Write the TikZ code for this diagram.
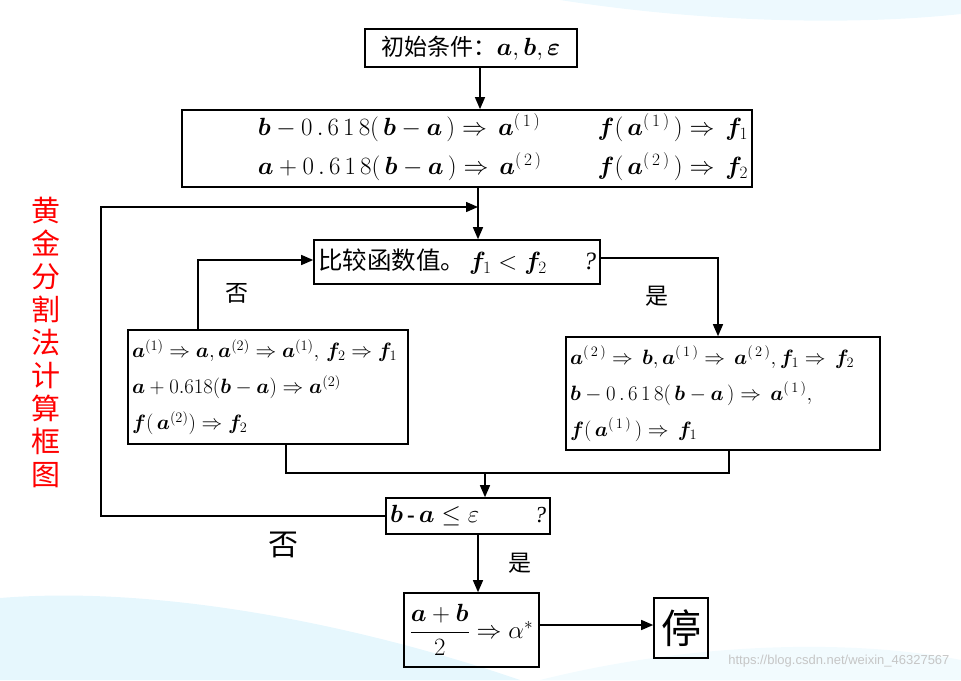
\documentclass[tikz,border=0pt]{standalone}
\usepackage{amsmath,amssymb,bm}
\usepackage{fontspec}
\setmainfont{Liberation Serif}
\newfontfamily\cjk{Noto Sans CJK SC}
\usetikzlibrary{arrows.meta,positioning}
% spaced-out numbers and superscripts as in the original
\newcommand\gold{0\,.\,6\,1\,8}
\newcommand\supone{^{(\,1\,)}}
\newcommand\suptwo{^{(\,2\,)}}

\begin{document}
\begin{tikzpicture}[
    x=1pt, y=-1pt,
    box/.style={rectangle, draw, line width=1.6pt, inner sep=4pt},
    mathtxt/.style={font=\fontsize{22}{26}\selectfont},
    cjktxt/.style={font=\cjk\fontsize{23}{26}\selectfont},
    arrow/.style={-{Triangle[length=12pt,width=10pt]}, line width=1.4pt}
]
\useasboundingbox (0,0) rectangle (961,680);
% faint background swooshes
\fill[cyan!7] (560,0) .. controls (700,22) and (850,26) .. (961,14) -- (961,0) -- cycle;
\fill[cyan!10] (0,598) .. controls (160,585) and (360,625) .. (520,680) -- (0,680) -- cycle;
\fill[cyan!5] (540,680) .. controls (700,640) and (860,640) .. (961,660) -- (961,680) -- cycle;

% boxes
\node[box, cjktxt, minimum width=212pt, minimum height=38pt] (init) at (471,48)
    {初始条件：\fontspec{Liberation Serif}$\bm a,\bm b,\bm\varepsilon$};
\node[box, minimum height=75pt, text width=562pt, align=right, font=\fontsize{23}{27}\selectfont] (calc) at (467,148.5)
    {\begin{tabular}{@{}l@{\hspace{56pt}}l@{}}
     $\bm b-\gold(\,\bm b-\bm a\,)\Rightarrow\,\bm a\supone$ & $\bm f(\,\bm a\supone\,)\Rightarrow\,\bm f_1$\\[9pt]
     $\bm a+\gold(\,\bm b-\bm a\,)\Rightarrow\,\bm a\suptwo$ & $\bm f(\,\bm a\suptwo\,)\Rightarrow\,\bm f_2$
     \end{tabular}};
\node[box, minimum width=286pt, minimum height=44pt, text width=278pt, align=left, font=\cjk\fontsize{24.5}{28}\selectfont] (cmp) at (457,262)
    {比较函数值。\fontspec{Liberation Serif}\fontsize{25}{28}\selectfont\hspace{4pt}$\bm f_1<\bm f_2$\hfill\textit{?}\hspace{6pt}};
\node[box, mathtxt, minimum height=114pt, text width=272pt, align=left] (leftbox) at (268,387)
    {$\bm a^{(1)}\Rightarrow\bm a,\bm a^{(2)}\Rightarrow\bm a^{(1)},\,\bm f_2\Rightarrow\bm f_1$\\[10pt]
     $\bm a+0.618(\bm b-\bm a)\Rightarrow\bm a^{(2)}$\\[10pt]
     $\bm f(\,\bm a^{(2)})\Rightarrow\bm f_2$};
\node[box, mathtxt, minimum height=113pt, text width=306pt, align=left] (rightbox) at (723,393.5)
    {$\bm a\suptwo\Rightarrow\,\bm b,\bm a\supone\Rightarrow\,\bm a\suptwo,\bm f_1\Rightarrow\,\bm f_2$\\[10pt]
     $\bm b-\gold(\,\bm b-\bm a\,)\Rightarrow\,\bm a\supone,$\\[10pt]
     $\bm f(\,\bm a\supone\,)\Rightarrow\,\bm f_1$};
\node[box, minimum height=36pt, text width=156pt, align=left, font=\fontsize{23}{26}\selectfont] (check) at (468,516)
    {$\bm b\,\textbf{-}\,\bm a\leq\varepsilon$\hfill\textit{?}};
\node[box, minimum width=135pt, minimum height=74pt, font=\fontsize{24}{27}\selectfont] (result) at (471.5,630)
    {$\dfrac{\bm a+\bm b}{2}\Rightarrow\alpha^*$};
\node[box, minimum width=54pt, minimum height=60pt, inner sep=2pt, font=\cjk\fontsize{40}{44}\selectfont] (stop) at (681,628) {停};

% labels
\node[cjktxt] (no1) at (237,293) {否};
\node[cjktxt] (yes1) at (657,296) {是};
\node[font=\cjk\fontsize{30}{34}\selectfont] (no2) at (283,545) {否};
\node[cjktxt] (yes2) at (520,563) {是};
\node[red, font=\cjk\fontsize{29}{33}\selectfont, align=center] (title) at (46,342)
    {黄\\金\\分\\割\\法\\计\\算\\框\\图};
\node[gray!45, font=\fontspec{Liberation Sans}\fontsize{13}{15}\selectfont, anchor=east] (mark) at (953,661)
    {https://blog.csdn.net/weixin\_46327567};

% connectors
\coordinate (join) at (478,207);
\coordinate (loopleft) at (101,207);
\coordinate (merge) at (485,473);
\draw[arrow] ([xshift=9pt]init.south) -- ([xshift=9pt]init.south |- calc.north);
\draw[arrow] ([xshift=11pt]calc.south) -- ([xshift=11pt]calc.south |- cmp.north);
\draw[arrow] (check.west) -| (loopleft) -- (join);
\draw[arrow] ([yshift=4pt]cmp.east) -| ([xshift=-5pt]rightbox.north);
\draw[arrow] ([xshift=-70pt]leftbox.north) |- ([yshift=2pt]cmp.west);
\draw[line width=1.4pt] ([xshift=18pt]leftbox.south) |- (merge) -| ([xshift=6pt]rightbox.south);
\draw[arrow] (merge) -- (merge |- check.north);
\draw[arrow] ([xshift=10pt]check.south) -- ([xshift=10pt]check.south |- result.north);
\draw[arrow] ([yshift=5pt]result.east) -- ([yshift=3pt]stop.west);
\end{tikzpicture}
\end{document}
